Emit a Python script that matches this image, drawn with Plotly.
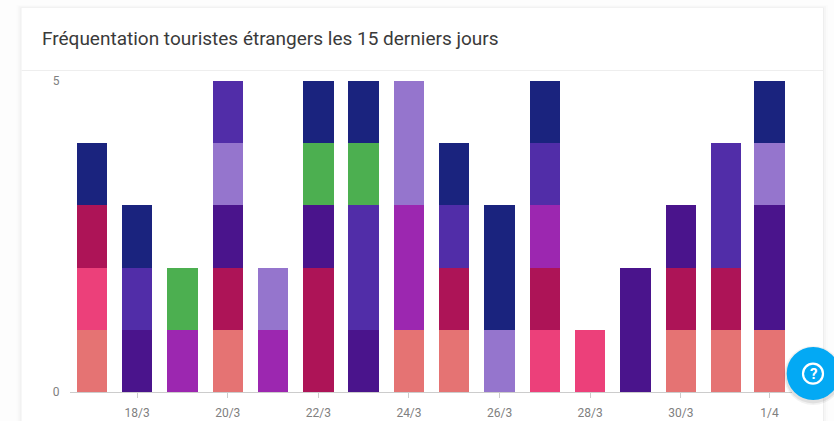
import plotly.graph_objects as go

W, H = 834, 421
L, R, T, B = 70, 42, 81, 29

TITLE = "Fréquentation touristes étrangers les 15 derniers jours"
# Last date sits just before midnight, as in the reference (clock change shift)
DATES = ["2021-03-17", "2021-03-18", "2021-03-19", "2021-03-20", "2021-03-21", "2021-03-22",
         "2021-03-23", "2021-03-24", "2021-03-25", "2021-03-26", "2021-03-27", "2021-03-28",
         "2021-03-29", "2021-03-30", "2021-03-31", "2021-03-31 23:00"]
TICK_DATES = ["2021-03-18", "2021-03-20", "2021-03-22", "2021-03-24", "2021-03-26",
              "2021-03-28", "2021-03-30", "2021-03-31 23:00"]
TICK_LABELS = ["18/3", "20/3", "22/3", "24/3", "26/3", "28/3", "30/3", "1/4"]

salmon =     [1, 0, 0, 1, 0, 0, 0, 1, 1, 0, 0, 0, 0, 1, 1, 1]
pink =       [1, 0, 0, 0, 0, 0, 0, 0, 0, 0, 1, 1, 0, 0, 0, 0]
crimson =    [1, 0, 0, 1, 0, 2, 0, 0, 1, 0, 1, 0, 0, 1, 1, 0]
purple =     [0, 0, 1, 0, 1, 0, 0, 2, 0, 0, 1, 0, 0, 0, 0, 0]
darkviolet = [0, 1, 0, 1, 0, 1, 1, 0, 0, 0, 0, 0, 2, 1, 0, 2]
lilac =      [0, 0, 0, 1, 1, 0, 0, 2, 0, 1, 0, 0, 0, 0, 0, 1]
indigo =     [0, 1, 0, 1, 0, 0, 2, 0, 1, 0, 1, 0, 0, 0, 2, 0]
green =      [0, 0, 1, 0, 0, 1, 1, 0, 0, 0, 0, 0, 0, 0, 0, 0]
navy =       [1, 1, 0, 0, 0, 1, 1, 0, 1, 2, 1, 0, 0, 0, 0, 1]

SERIES = [
    ("salmon", salmon, "#E57373"),
    ("pink", pink, "#EC407A"),
    ("crimson", crimson, "#AD1457"),
    ("purple", purple, "#9C27B0"),
    ("darkviolet", darkviolet, "#4A148C"),
    ("lilac", lilac, "#9575CD"),
    ("indigo", indigo, "#512DA8"),
    ("green", green, "#4CAF50"),
    ("navy", navy, "#1A237E"),
]

PW, PH = W - L - R, H - T - B
px = lambda v: (v - L) / PW
py = lambda v: 1 - (v - T) / PH

fig = go.Figure()
for name, vals, col in SERIES:
    fig.add_bar(x=DATES, y=vals, name=name, marker=dict(color=col, line=dict(width=0)))

shapes = []
# card shadow, layered from faint/wide to narrow
for grow, col in [(5, "#fbfbfb"), (3, "#f6f6f6"), (1, "#eeeeee")]:
    shapes.append(dict(type="rect", layer="below", xref="paper", yref="paper",
                       x0=px(21.5 - grow), x1=px(823 + grow), y0=py(430), y1=py(8 - grow * 0.6),
                       fillcolor=col, line_width=0))
shapes.append(dict(type="rect", layer="below", xref="paper", yref="paper",
                   x0=px(21.5), x1=px(823), y0=py(430), y1=py(8), fillcolor="#ffffff", line_width=0))
shapes.append(dict(type="line", layer="below", xref="paper", yref="paper",
                   x0=px(21.5), x1=px(823), y0=py(70.5), y1=py(70.5), line=dict(color="#eeeeee", width=1)))
# help button
for grow, col in [(3, "rgba(0,0,0,0.05)"), (1.5, "rgba(0,0,0,0.07)")]:
    shapes.append(dict(type="circle", xref="paper", yref="paper",
                       x0=px(786.7 - grow), x1=px(839.7 + grow), y0=py(402 + grow), y1=py(349 - grow),
                       fillcolor=col, line_width=0))
shapes.append(dict(type="circle", xref="paper", yref="paper",
                   x0=px(786.7), x1=px(839.7), y0=py(400), y1=py(347), fillcolor="#03A9F4", line_width=0))
shapes.append(dict(type="circle", xref="paper", yref="paper",
                   x0=px(803), x1=px(823), y0=py(383.7), y1=py(363.7),
                   line=dict(color="#ffffff", width=2.2)))

annotations = [
    dict(text=TITLE, xref="paper", yref="paper", x=px(40), y=py(38), xanchor="left", yanchor="middle",
         showarrow=False, font=dict(family="Roboto", size=19, color="#3a3a3a")),
    dict(text="<b>?</b>", xref="paper", yref="paper", x=px(813), y=py(373.5), xanchor="center",
         yanchor="middle", showarrow=False, font=dict(family="Roboto", size=15, color="#ffffff")),
]

fig.update_layout(
    width=W, height=H, margin=dict(l=L, r=R, t=T, b=B, pad=0, autoexpand=False),
    barmode="stack", bargap=0.3, showlegend=False,
    paper_bgcolor="#fdfdfd", plot_bgcolor="rgba(0,0,0,0)",
    shapes=shapes, annotations=annotations,
    xaxis=dict(type="date", range=["2021-03-16 12:25", "2021-04-01 10:55"], automargin=False,
               tickvals=TICK_DATES, ticktext=TICK_LABELS, ticks="outside", ticklen=5, tickcolor="#cccccc",
               ticklabelstandoff=5, tickfont=dict(family="Roboto", size=12, color="#808080"),
               showgrid=False, showline=True, linecolor="#cccccc", linewidth=1, zeroline=False),
    yaxis=dict(range=[0, 5], tickvals=[0, 5], ticktext=["0", "5"], ticks="outside", ticklen=7, automargin=False,
               tickcolor="rgba(0,0,0,0)", tickfont=dict(family="Roboto", size=12, color="#808080"),
               showgrid=True, gridcolor="#dddddd", gridwidth=1, zeroline=False),
)

fig.write_html("out.html", post_script="document.body.style.margin='0';", config=dict(displayModeBar=False))
